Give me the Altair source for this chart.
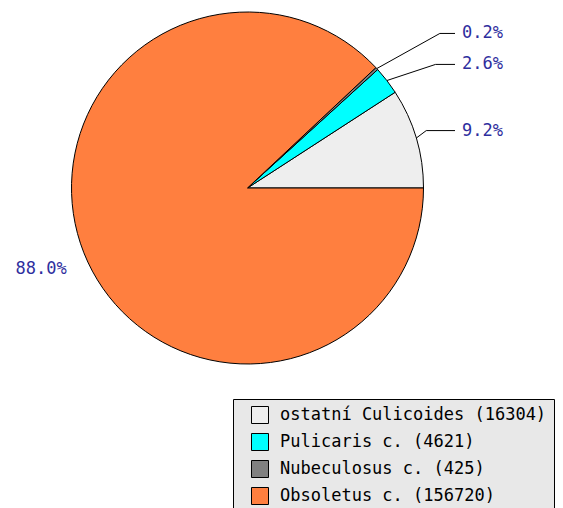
import math
import pandas as pd
import altair as alt

# ---- data ----
categories = ["ostatní Culicoides", "Pulicaris c.", "Nubeculosus c.", "Obsoletus c."]
counts = [16304, 4621, 425, 156720]
colors = ["#eeeeee", "#00ffff", "#808080", "#ff7f3f"]

# ---- layout constants ----
W, H = 547, 500
CX, CY, R = 239.5, 180.0, 176.0
LABEL_COLOR = "#2e2e9e"
FONT = "DejaVu Sans Mono"

total = sum(counts)
legend_labels = [f"{c} ({n})" for c, n in zip(categories, counts)]

# pie table (stack order: clockwise from 3 o'clock)
pie = pd.DataFrame({
    "label": legend_labels,
    "count": counts,
    "ord": list(range(len(counts)))[::-1],
})

# label geometry in units of radius (counter-clockwise from 3 o'clock)
start = 0.0
mids = []
for n in counts:
    f = n / total
    mids.append((start + f / 2) * 2 * math.pi)
    start += f
pcts = [f"{100 * n / total:.1f}%" for n in counts]

right_rows, left_rows, line_rows = [], [], []
prev_y = None
for i in sorted(range(len(counts)), key=lambda k: mids[k]):
    a = mids[i]
    if math.cos(a) > 0:
        ly = 1.15 * math.sin(a)
        if prev_y is not None and ly < prev_y + 0.176:
            ly = prev_y + 0.176
        prev_y = ly
        right_rows.append({"x": 1.219, "y": ly, "t": pcts[i]})
        pts = [(math.cos(a), math.sin(a)), (0.97 + 0.14 * ly, ly), (1.179, ly)]
        for s, (px, py) in enumerate(pts):
            line_rows.append({"cat": categories[i], "s": s, "x": px, "y": py})
    else:
        left_rows.append({"x": 1.105 * math.cos(a), "y": 1.12 * math.sin(a), "t": pcts[i]})

right_df = pd.DataFrame(right_rows)
left_df = pd.DataFrame(left_rows)
line_df = pd.DataFrame(line_rows)

xs = alt.Scale(domain=[(0 - CX) / R, (W - CX) / R], nice=False, zero=False)
ys = alt.Scale(domain=[-(H - CY) / R, CY / R], nice=False, zero=False)

arcs = alt.Chart(pie).mark_arc(outerRadius=R, stroke="black", strokeWidth=1).encode(
    theta=alt.Theta("count:Q", stack=True,
                    scale=alt.Scale(range=[math.pi / 2, math.pi / 2 + 2 * math.pi])),
    order=alt.Order("ord:Q"),
    color=alt.Color(
        "label:N",
        scale=alt.Scale(domain=legend_labels, range=colors),
        legend=alt.Legend(
            orient="none", legendX=225, legendY=391, title=None,
            fillColor="#e8e8e8", strokeColor="black", padding=7,
            symbolType="square", symbolSize=289, symbolStrokeColor="black",
            symbolStrokeWidth=1, symbolOffset=11,
            labelFont=FONT, labelFontSize=17, labelColor="black",
            labelOffset=11, rowPadding=5, labelLimit=500,
        ),
    ),
    x=alt.value(CX),
    y=alt.value(CY),
)

lines = alt.Chart(line_df).mark_line(color="black", strokeWidth=1).encode(
    x=alt.X("x:Q", scale=xs, axis=None),
    y=alt.Y("y:Q", scale=ys, axis=None),
    detail="cat:N",
    order="s:Q",
)

rtext = alt.Chart(right_df).mark_text(
    align="left", baseline="middle", font=FONT, fontSize=17, color=LABEL_COLOR
).encode(
    x=alt.X("x:Q", scale=xs, axis=None),
    y=alt.Y("y:Q", scale=ys, axis=None),
    text="t:N",
)

ltext = alt.Chart(left_df).mark_text(
    align="right", baseline="top", font=FONT, fontSize=17, color=LABEL_COLOR
).encode(
    x=alt.X("x:Q", scale=xs, axis=None),
    y=alt.Y("y:Q", scale=ys, axis=None),
    text="t:N",
)

chart = alt.layer(arcs, lines, rtext, ltext).properties(
    width=W, height=H, padding=0,
    autosize=alt.AutoSizeParams(type="none"),
    background="white",
).configure_view(strokeWidth=0)

chart.save("out.html", embed_options={"renderer": "svg", "actions": False})
